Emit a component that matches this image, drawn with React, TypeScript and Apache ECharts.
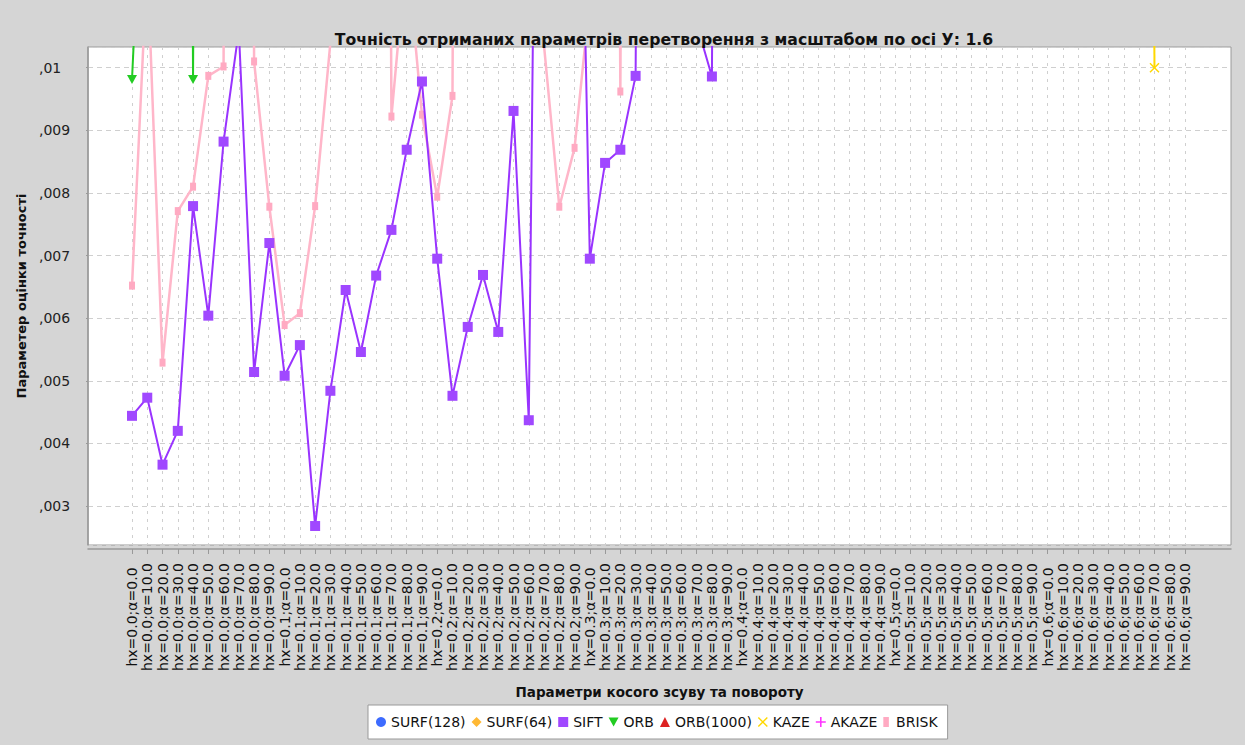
import React, { useEffect, useRef } from "react";
import * as echarts from "echarts";

// ---- categories ----
const hxValues = ["0.0", "0.1", "0.2", "0.3", "0.4", "0.5", "0.6"];
const alphaValues = ["0.0", "10.0", "20.0", "30.0", "40.0", "50.0", "60.0", "70.0", "80.0", "90.0"];
const categories = hxValues.flatMap((hx) => alphaValues.map((a) => `hx=${hx};α=${a}`));

// ---- y axis ticks ----
const yTickValues = [0.003, 0.004, 0.005, 0.006, 0.007, 0.008, 0.009, 0.01];
const yTickLabels = [",003", ",004", ",005", ",006", ",007", ",008", ",009", ",01"];
const yMin = 0.002377;
const yMax = 0.010331;

// ---- series values (null = no visible point) ----
const surf128Values: (number | null)[] = [];
const surf64Values: (number | null)[] = [];
const orb1000Values: (number | null)[] = [];
const akazeValues: (number | null)[] = [];

const siftValues: (number | null)[] = [
  0.00444, 0.00473, 0.00366, 0.0042, 0.00779, 0.00604, 0.00882, 0.0106, 0.00514, 0.0072,
  0.00508, 0.00557, 0.00268, 0.00484, 0.00645, 0.00546, 0.00668, 0.00741, 0.00869, 0.00978,
  0.00695, 0.00476, 0.00586, 0.00669, 0.00578, 0.00931, 0.00437, 0.027, 0.024, 0.019,
  0.00695, 0.00848, 0.00869, 0.00987, 0.05, 0.04, 0.03, 0.0107, 0.00986, 0.05,
  null, null, null, null, null, null, null, null, null, null,
  null, null, null, null, null, null, null, null, null, null,
  null, null, null, null, null, null, null, null, null, null,
];

const briskValues: (number | null)[] = [
  0.00652, 0.0117, 0.00529, 0.00771, 0.0081, 0.00987, 0.01002, 0.08, 0.0101, 0.00778,
  0.00589, 0.00608, 0.00779, 0.0104, 0.03, 0.03, 0.06, 0.00922, 0.0119, 0.00925,
  0.00794, 0.00955, 0.06, 0.03, 0.03, 0.03, 0.06, 0.01035, 0.00778, 0.00872,
  0.0111, 0.06, 0.00962, 0.06, null, null, null, null, null, null,
  null, null, null, null, null, null, null, null, null, null,
  null, null, null, null, null, null, null, null, null, null,
  null, null, null, null, null, null, null, null, null, null,
];

const orbValues: (number | null)[] = [
  0.00981, 0.015, 0.04, 0.06, 0.00981, 0.06, null, null, null, null,
];

const kazeValues: (number | null)[] = [
  null, null, null, null, null, null, null, null, null, null,
  null, null, null, null, null, null, null, null, null, null,
  null, null, null, null, null, null, null, null, null, null,
  null, null, null, null, null, null, null, null, null, null,
  null, null, null, null, null, null, null, null, null, null,
  null, null, null, null, null, null, null, null, null, null,
  null, null, null, null, null, null, 0.06, 0.01, null, null,
];

const seriesNames = ["SURF(128)", "SURF(64)", "SIFT", "ORB", "ORB(1000)", "KAZE", "AKAZE", "BRISK"];

const FONT = "DejaVu Sans";

const downTri = "path://M0,0L10,0L5,9Z";
const xShape = "path://M0,1L1,0L5,4L9,0L10,1L6,5L10,9L9,10L5,6L1,10L0,9L4,5Z";
const plusShape = "path://M4.2,0H5.8V4.2H10V5.8H5.8V10H4.2V5.8H0V4.2H4.2Z";
const briskIcon = "path://M0,0H5V9H0Z";

export default function App() {
  const ref = useRef<HTMLDivElement>(null);

  useEffect(() => {
    if (!ref.current) return;
    const chart = echarts.init(ref.current, undefined, { renderer: "svg" });

    const mk = (
      name: string,
      data: (number | null)[],
      color: string,
      symbol: string,
      symbolSize: number | number[],
      lineWidth: number,
      z: number,
      symbolColor?: string
    ) => ({
      name,
      type: "line",
      xAxisIndex: 1,
      yAxisIndex: 1,
      data,
      connectNulls: false,
      clip: true,
      symbol,
      symbolSize,
      showSymbol: true,
      showAllSymbol: true,
      z,
      lineStyle: { color, width: lineWidth },
      itemStyle: { color: symbolColor || color },
      emphasis: { disabled: true },
    });

    const option: any = {
      animation: false,
      backgroundColor: "#d5d5d5",
      textStyle: { fontFamily: FONT },
      title: {
        text: "Точність отриманих параметрів перетворення з масштабом по осі У: 1.6",
        left: 659,
        textAlign: "center",
        top: 26,
        textStyle: { fontSize: 15.7, fontWeight: "bold", color: "#111", fontFamily: FONT },
      },
      legend: {
        left: 368,
        top: 705,
        orient: "horizontal",
        backgroundColor: "#fff",
        borderColor: "#999",
        borderWidth: 1,
        borderRadius: 0,
        padding: [10, 10, 10, 8],
        itemGap: 6,
        itemWidth: 10,
        itemHeight: 10,
        selectedMode: false,
        textStyle: { fontSize: 14, color: "#111", fontFamily: FONT },
        data: [
          { name: seriesNames[0], icon: "circle" },
          { name: seriesNames[1], icon: "diamond" },
          { name: seriesNames[2], icon: "rect" },
          { name: seriesNames[3], icon: downTri },
          { name: seriesNames[4], icon: "triangle" },
          { name: seriesNames[5], icon: xShape },
          { name: seriesNames[6], icon: plusShape },
          { name: seriesNames[7], icon: briskIcon },
        ],
      },
      grid: [
        {
          left: 88,
          right: 14,
          top: 47,
          bottom: 200,
          show: true,
          backgroundColor: "#ffffff",
          borderColor: "#9a9a9a",
          borderWidth: 1,
        },
        { left: 132, right: 60, top: 47, bottom: 200 },
      ],
      xAxis: [
        {
          gridIndex: 0,
          type: "value",
          min: 0,
          max: 1,
          offset: 4,
          axisLine: { show: true, lineStyle: { color: "#999", width: 1.5 } },
          axisTick: { show: false },
          axisLabel: { show: false },
          splitLine: { show: false },
          name: "Параметри косого зсуву та повороту",
          nameLocation: "middle",
          nameGap: 136,
          nameTextStyle: { fontSize: 13.5, fontWeight: "bold", color: "#111", fontFamily: FONT },
        },
        {
          gridIndex: 1,
          type: "category",
          data: categories,
          boundaryGap: false,
          offset: 4,
          axisLine: { show: false },
          axisTick: { show: true, interval: 0, length: 5, lineStyle: { color: "#999" } },
          axisLabel: {
            interval: 0,
            rotate: 90,
            align: "center",
            verticalAlign: "middle",
            margin: 68,
            fontSize: 14,
            color: "#111",
            fontFamily: FONT,
          },
          splitLine: { show: true, interval: 0, lineStyle: { color: "#cfcfcf", type: [3, 5], width: 1 } },
        },
      ],
      yAxis: [
        {
          gridIndex: 0,
          type: "value",
          min: yMin,
          max: yMax,
          splitNumber: 8,
          offset: 5,
          axisLine: { show: true, lineStyle: { color: "#999", width: 1.5 } },
          axisTick: { show: true, length: 2, lineStyle: { color: "#999" } },
          axisLabel: {
            align: "left",
            margin: 44,
            fontSize: 14,
            color: "#222",
            fontFamily: FONT,
            showMinLabel: false,
            showMaxLabel: false,
            formatter: (v: number) => {
              const i = yTickValues.findIndex((t) => Math.abs(t - v) < 1e-9);
              return i >= 0 ? yTickLabels[i] : "";
            },
          },
          splitLine: { show: true, lineStyle: { color: "#cfcfcf", type: [5, 4], width: 1 } },
          name: "Параметер оцінки точності",
          nameLocation: "middle",
          nameGap: 50,
          nameRotate: 90,
          nameTextStyle: { fontSize: 13, fontWeight: "bold", color: "#111", fontFamily: FONT },
        },
        { gridIndex: 1, type: "value", min: yMin, max: yMax, show: false, splitLine: { show: false } },
      ],
      series: [
        mk(seriesNames[0], surf128Values, "#3d6bff", "circle", 9, 2, 2),
        mk(seriesNames[1], surf64Values, "#ffb833", "diamond", 10, 2, 2),
        mk(seriesNames[2], siftValues, "#9933ff", "rect", 10, 2, 5, "#a048ff"),
        mk(seriesNames[3], orbValues, "#22cc22", downTri, [10, 9], 2, 4),
        mk(seriesNames[4], orb1000Values, "#dd2222", "triangle", 10, 2, 2),
        mk(seriesNames[5], kazeValues, "#ffd800", xShape, 10, 2, 3),
        mk(seriesNames[6], akazeValues, "#ff33ff", plusShape, 10, 2, 2),
        mk(seriesNames[7], briskValues, "#ffb6c9", "rect", [6, 8], 2.5, 1, "#ffaac2"),
      ],
    };

    chart.setOption(option);
    return () => chart.dispose();
  }, []);

  return (
    <div
      ref={ref}
      style={{ position: "fixed", left: 0, top: 0, width: 1245, height: 745 }}
    />
  );
}
